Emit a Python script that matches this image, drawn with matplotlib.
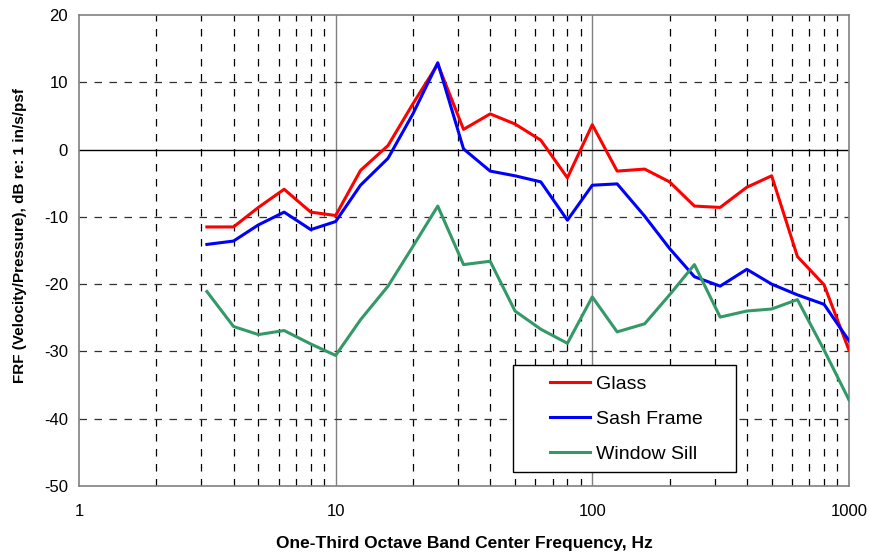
import matplotlib
matplotlib.use("Agg")
import matplotlib.pyplot as plt
from matplotlib.patches import Rectangle
from matplotlib.ticker import FixedLocator, NullFormatter

plt.rcParams['font.family'] = ['Liberation Sans', 'DejaVu Sans']
plt.rcParams['axes.unicode_minus'] = False

# one-third octave band centre frequencies, Hz
freq = [3.15, 4, 5, 6.3, 8, 10, 12.5, 16, 20, 25, 31.5, 40, 50, 63, 80,
        100, 125, 160, 200, 250, 315, 400, 500, 630, 800, 1000]

glass = [-11.5, -11.5, -8.6, -5.9, -9.3, -9.8, -3.1, 0.6, 6.8, 12.7, 3.0, 5.3,
         3.8, 1.4, -4.2, 3.7, -3.2, -2.9, -4.8, -8.4, -8.6, -5.6, -3.9,
         -15.9, -20.1, -29.8]
sash = [-14.1, -13.6, -11.2, -9.3, -11.9, -10.7, -5.3, -1.3, 5.3, 12.9, 0.1,
        -3.2, -3.9, -4.8, -10.5, -5.3, -5.1, -9.9, -14.7, -18.9, -20.3, -17.8,
        -20.0, -21.6, -23.0, -28.4]
sill = [-21.1, -26.3, -27.5, -26.9, -28.9, -30.6, -25.3, -20.3, -14.4, -8.4,
        -17.1, -16.6, -24.0, -26.7, -28.8, -21.9, -27.1, -25.9, -21.6, -17.1,
        -24.9, -24.0, -23.7, -22.3, -29.8, -37.2]

fig = plt.figure(figsize=(8.69, 5.56), dpi=100)
ax = fig.add_axes([0.0909, 0.126, 0.886, 0.847])

ax.set_xscale('log')
ax.set_xlim(1, 1000)
ax.set_ylim(-50, 20)

# grid
minors = [m * d for d in (1, 10, 100) for m in range(2, 10)]
for x in minors:
    ax.axvline(x, color='black', lw=0.9, ls=(0, (6, 6)), zorder=1)
for x in (10, 100):
    ax.axvline(x, color='#808080', lw=1.0, zorder=1)
for y in (10, -10, -20, -30, -40):
    ax.axhline(y, color='#303030', lw=0.9, ls=(0, (6, 6)), zorder=1)
ax.axhline(0, color='black', lw=1.0, zorder=1)

ax.plot(freq, glass, color='#ff0000', lw=2.2, label='Glass', zorder=3)
ax.plot(freq, sash, color='#0000ff', lw=2.2, label='Sash Frame', zorder=3)
ax.plot(freq, sill, color='#339966', lw=2.2, label='Window Sill', zorder=3)

ax.xaxis.set_major_locator(FixedLocator([1, 10, 100, 1000]))
ax.xaxis.set_minor_locator(FixedLocator(minors))
ax.xaxis.set_minor_formatter(NullFormatter())
ax.set_xticklabels(['1', '10', '100', '1000'])
ax.set_yticks(range(-50, 21, 10))
ax.tick_params(axis='both', which='both', length=0, labelsize=12)
ax.tick_params(axis='x', pad=13)
ax.tick_params(axis='y', pad=8)

for s in ax.spines.values():
    s.set_color('#808080')
    s.set_linewidth(1.2)

ax.set_xlabel('One-Third Octave Band Center Frequency, Hz', fontsize=12.5,
              fontweight='bold', labelpad=12)
ax.set_ylabel('FRF (Velocity/Pressure), dB re: 1 in/s/psf', fontsize=11,
              fontweight='bold')
ax.yaxis.set_label_coords(-0.067, 0.532)

# legend box drawn separately so the entries can sit inset from it
ax.add_patch(Rectangle((0.564, 0.03), 0.289, 0.227, transform=ax.transAxes,
                       facecolor='white', edgecolor='black', lw=1.0, zorder=4))
leg = ax.legend(loc='upper left', bbox_to_anchor=(0.612, 0.235),
                fontsize=14, frameon=False, borderpad=0, borderaxespad=0,
                handlelength=2.05, handletextpad=0.3, labelspacing=0.9)
leg.set_zorder(5)

fig.savefig('out.png', dpi=100)
